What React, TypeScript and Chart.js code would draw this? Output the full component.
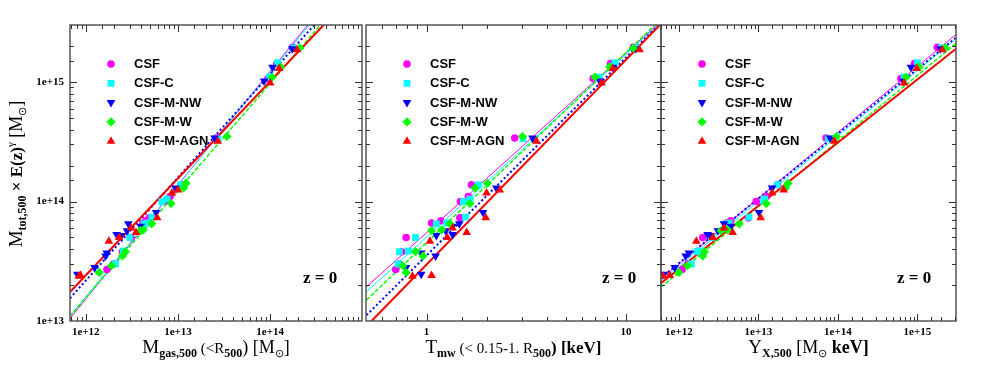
import React, { useEffect, useRef } from "react";
import { Chart, registerables } from "chart.js";
import { drawPoint } from "chart.js/helpers";

Chart.register(...registerables);

// ---------------- data ----------------
const SERIES_NAMES = ["CSF", "CSF-C", "CSF-M-NW", "CSF-M-W", "CSF-M-AGN"];

// total mass M_tot,500 x E(z)^gamma per cluster
const massCSF = [1.95e15, 1.43e15, 1.07e15, 3.4e14, 1.38e14, 1.1e14, 1.0e14, 7.3e13, 6.9e13, 6.6e13, 5.0e13, 3.8e13, 3.0e13, 2.7e13];
const gasCSF = [1.75e14, 1.18e14, 9.5e13, 2.6e13, 1.1e13, 8.2e12, 7.2e12, 4.9e12, 4.5e12, 4.2e12, 3.1e12, 2.5e12, 2.0e12, 1.7e12];
const tmwCSF = [10.9, 8.37, 6.85, 2.77, 1.68, 1.62, 1.48, 1.47, 1.18, 1.06, 0.79, 0.75, 0.73, 0.7];
const yxCSF = [1.78e15, 9.2e14, 6.2e14, 7.1e13, 1.75e13, 1.25e13, 9.4e12, 7.5e12, 4.5e12, 4.0e12, 2.0e12, 1.8e12, 1.3e12, 1.1e12];

const massC = [1.93e15, 1.45e15, 1.1e15, 3.35e14, 1.38e14, 1.05e14, 1.0e14, 7.4e13, 6.6e13, 6.5e13, 5.0e13, 3.85e13, 3.8e13, 3.0e13];
const gasC = [1.8e14, 1.2e14, 9.8e13, 2.7e13, 1.06e13, 7.6e12, 6.7e12, 5.2e12, 4.6e12, 4.3e12, 3.0e12, 2.6e12, 2.55e12, 2.1e12];
const tmwC = [11.3, 8.8, 7.35, 3.05, 1.82, 1.65, 1.53, 1.57, 1.26, 1.12, 0.88, 0.81, 0.73, 0.72];
const yxC = [2.0e15, 1.0e15, 6.8e14, 7.6e13, 1.73e13, 1.2e13, 1.17e13, 7.6e12, 4.3e12, 3.9e12, 2.6e12, 1.8e12, 1.7e12, 1.44e12];

const massNW = [1.9e15, 1.33e15, 1.02e15, 3.4e14, 1.3e14, 8.1e13, 6.5e13, 6.2e13, 5.7e13, 5.3e13, 5.2e13, 3.7e13, 3.5e13, 2.8e13, 2.46e13];
const gasNW = [1.74e14, 1.06e14, 8.6e13, 2.5e13, 9.4e12, 5.8e12, 2.9e12, 3.95e12, 2.8e12, 2.16e12, 2.4e12, 1.69e12, 1.64e12, 1.25e12, 8.1e11];
const tmwNW = [11.2, 8.6, 7.4, 3.4, 2.24, 1.92, 1.46, 1.35, 1.25, 1.35, 1.12, 0.94, 1.11, 0.79, 0.94];
const yxNW = [1.95e15, 8.3e14, 6.7e14, 8.0e13, 1.49e13, 1.02e13, 3.7e12, 4.5e12, 3.1e12, 2.3e12, 2.5e12, 1.34e12, 1.22e12, 8.9e11, 6.5e11];

const massW = [1.93e15, 1.34e15, 1.1e15, 3.5e14, 1.42e14, 1.3e14, 9.6e13, 6.5e13, 5.8e13, 5.7e13, 3.8e13, 3.5e13, 2.9e13, 2.55e13];
const gasW = [2.1e14, 1.3e14, 1.05e14, 3.4e13, 1.22e13, 1.15e13, 8.4e12, 5.2e12, 4.2e12, 3.9e12, 2.7e12, 2.5e12, 1.9e12, 1.4e12];
const tmwW = [10.9, 8.3, 7.0, 3.03, 2.02, 1.75, 1.65, 1.31, 1.19, 1.06, 0.88, 0.96, 0.76, 0.79];
const yxW = [2.25e15, 1.05e15, 7.2e14, 9.6e13, 2.36e13, 2.2e13, 1.26e13, 5.75e12, 4.1e12, 3.4e12, 2.1e12, 2.0e12, 1.28e12, 1.0e12];

const massAGN = [1.86e15, 1.3e15, 9.8e14, 3.2e14, 1.25e14, 1.18e14, 7.3e13, 6.0e13, 5.5e13, 5.0e13, 4.66e13, 2.4e13, 2.37e13];
const gasAGN = [1.95e14, 1.25e14, 1.0e14, 2.7e13, 1.0e13, 8.6e12, 5.95e12, 3.1e12, 3.5e12, 2.3e12, 1.78e12, 8.8e11, 8.4e11];
const tmwAGN = [11.7, 8.6, 7.55, 3.56, 2.33, 2.0, 1.98, 1.35, 1.59, 1.27, 1.04, 1.06, 0.85];
const yxAGN = [2.05e15, 9.8e14, 6.8e14, 9.0e13, 2.08e13, 1.49e13, 1.07e13, 3.7e12, 4.75e12, 2.67e12, 1.66e12, 7.7e11, 6.4e11];

// best-fit lines: [x0, y0, x1, y1] per series (CSF, CSF-C, NW, W, AGN)
const fitGas = [
  [6.75e11, 1.05e13, 2.55e14, 3e15],
  [6.75e11, 1.1e13, 2.65e14, 3e15],
  [6.75e11, 1.55e13, 3.0e14, 3e15],
  [6.75e11, 1.1e13, 3.5e14, 3e15],
  [6.75e11, 1.75e13, 3.8e14, 3e15],
];
const fitTmw = [
  [0.5, 1.93e13, 14.3, 3e15],
  [0.5, 1.75e13, 14.5, 3e15],
  [0.5, 1.12e13, 14.6, 3e15],
  [0.5, 1.5e13, 14.0, 3e15],
  [0.53, 1.0e13, 14.8, 3e15],
];
const fitYx = [
  [5.97e11, 2.24e13, 3.06e15, 2.5e15],
  [5.97e11, 2.15e13, 3.06e15, 2.3e15],
  [5.97e11, 2.3e13, 3.06e15, 2.35e15],
  [5.97e11, 1.92e13, 3.06e15, 2.1e15],
  [5.97e11, 2.07e13, 3.06e15, 1.9e15],
];

const Y_MIN = 1e13;
const Y_MAX = 3e15;
const X_RANGE_GAS = [6.75e11, 9.9e14];
const X_RANGE_TMW = [0.497, 15];
const X_RANGE_YX = [5.97e11, 3.06e15];

const MASSES = [massCSF, massC, massNW, massW, massAGN];
const GAS = [gasCSF, gasC, gasNW, gasW, gasAGN];
const TMW = [tmwCSF, tmwC, tmwNW, tmwW, tmwAGN];
const YX = [yxCSF, yxC, yxNW, yxW, yxAGN];

// ---------------- style ----------------
const COLORS = ["#ff00ff", "#00ffff", "#0000ff", "#00ff00", "#ff0000"];
const POINT_STYLES = ["circle", "rect", "triangle", "rectRot", "triangle"];
const POINT_ROT = [0, 0, 180, 0, 0];
const POINT_RADIUS = [3.8, 4.8, 5, 4.6, 5];
const LINE_DASH = [[], [], [2, 2.5], [4, 2], []];
const LINE_WIDTH = [1, 1, 2, 1.5, 2];
const SERIF = '"Liberation Serif", "Times New Roman", serif';
const SANS = '"Liberation Sans", Arial, sans-serif';

type Seg = { t: string; s: number; b?: boolean; dy?: number };

const isPow10 = (v: number) => {
  const l = Math.log10(v);
  return Math.abs(l - Math.round(l)) < 1e-9;
};

function richText(ctx: CanvasRenderingContext2D, segs: Seg[], cx: number, by: number, rot: number) {
  ctx.save();
  ctx.translate(cx, by);
  if (rot) ctx.rotate(rot);
  const fontOf = (s: Seg) => `${s.b ? "bold " : ""}${s.s}px ${SERIF}`;
  let total = 0;
  segs.forEach((s) => {
    ctx.font = fontOf(s);
    total += ctx.measureText(s.t).width;
  });
  let x = -total / 2;
  ctx.textAlign = "left";
  ctx.textBaseline = "alphabetic";
  ctx.fillStyle = "#000";
  segs.forEach((s) => {
    ctx.font = fontOf(s);
    ctx.fillText(s.t, x, s.dy || 0);
    x += ctx.measureText(s.t).width;
  });
  ctx.restore();
}

const TITLE_GAS: Seg[] = [
  { t: "M", s: 19 },
  { t: "gas,500", s: 12, b: true, dy: 4 },
  { t: " (<R", s: 15 },
  { t: "500", s: 12, b: true, dy: 4 },
  { t: ") [M", s: 18 },
  { t: "⊙", s: 11, dy: 4 },
  { t: "]", s: 18 },
];
const TITLE_TMW: Seg[] = [
  { t: "T", s: 19 },
  { t: "mw", s: 12, b: true, dy: 4 },
  { t: " (< 0.15-1. R", s: 15 },
  { t: "500", s: 12, b: true, dy: 4 },
  { t: ") [keV]", s: 17, b: true },
];
const TITLE_YX: Seg[] = [
  { t: "Y", s: 19 },
  { t: "X,500", s: 12, b: true, dy: 4 },
  { t: " [M", s: 18 },
  { t: "⊙", s: 11, dy: 4 },
  { t: " keV]", s: 18, b: true },
];
const TITLE_Y: Seg[] = [
  { t: "M", s: 19 },
  { t: "tot,500", s: 12, b: true, dy: 4 },
  { t: " × E(z)", s: 17, b: true },
  { t: "γ", s: 11, dy: -8 },
  { t: " [M", s: 18 },
  { t: "⊙", s: 11, dy: 4 },
  { t: "]", s: 18 },
];

type Panel = {
  left: number;
  width: number;
  padL: number;
  padR: number;
  range: number[];
  xs: number[][];
  fits: number[][];
  title: Seg[];
  fmt: (v: number) => string;
  showY: boolean;
};

const PANELS: Panel[] = [
  { left: 0, width: 367, padL: 0, padR: 1, range: X_RANGE_GAS, xs: GAS, fits: fitGas, title: TITLE_GAS, fmt: (v) => v.toExponential(0), showY: true },
  { left: 356, width: 315, padL: 10, padR: 10, range: X_RANGE_TMW, xs: TMW, fits: fitTmw, title: TITLE_TMW, fmt: (v) => String(Math.round(v)), showY: false },
  { left: 651, width: 330, padL: 10, padR: 25, range: X_RANGE_YX, xs: YX, fits: fitYx, title: TITLE_YX, fmt: (v) => v.toExponential(0), showY: false },
];

const decoPlugin = {
  id: "panelDeco",
  afterDraw(chart: any, _args: any, opts: any) {
    const { ctx, chartArea: a } = chart;
    const x = chart.scales.x;
    const y = chart.scales.y;
    ctx.save();
    // frame
    ctx.strokeStyle = "#555";
    ctx.lineWidth = 1.5;
    ctx.strokeRect(a.left, a.top, a.right - a.left, a.bottom - a.top);
    // tick marks, inward on all sides
    ctx.lineWidth = 1;
    ctx.strokeStyle = "#333";
    ctx.beginPath();
    x.ticks.forEach((t: any) => {
      if (t.value <= x.min || t.value >= x.max) return;
      const p = Math.round(x.getPixelForValue(t.value)) + 0.5;
      const len = isPow10(t.value) ? 7 : 4;
      ctx.moveTo(p, a.bottom);
      ctx.lineTo(p, a.bottom - len);
      ctx.moveTo(p, a.top);
      ctx.lineTo(p, a.top + len);
    });
    y.ticks.forEach((t: any) => {
      if (t.value <= y.min || t.value >= y.max) return;
      const p = Math.round(y.getPixelForValue(t.value)) + 0.5;
      const len = isPow10(t.value) ? 7 : 4;
      ctx.moveTo(a.left, p);
      ctx.lineTo(a.left + len, p);
      ctx.moveTo(a.right, p);
      ctx.lineTo(a.right - len, p);
    });
    ctx.stroke();

    // legend
    SERIES_NAMES.forEach((name, i) => {
      const ry = 64 + i * 19.3;
      ctx.fillStyle = COLORS[i];
      ctx.strokeStyle = COLORS[i];
      drawPoint(ctx, { pointStyle: POINT_STYLES[i] as any, rotation: POINT_ROT[i], radius: POINT_RADIUS[i], borderWidth: 0 }, a.left + 41, ry);
      ctx.fillStyle = "#000";
      ctx.font = `bold 13px ${SANS}`;
      ctx.textAlign = "left";
      ctx.textBaseline = "middle";
      ctx.fillText(name, a.left + 64, ry + 0.5);
    });

    // z = 0
    ctx.fillStyle = "#000";
    ctx.font = `bold 17px ${SERIF}`;
    ctx.textAlign = "left";
    ctx.textBaseline = "alphabetic";
    ctx.fillText("z = 0", a.right - 59, 283);
    ctx.restore();

    // axis titles
    richText(ctx, opts.title, (a.left + a.right) / 2, 353, 0);
    if (opts.showY) richText(ctx, TITLE_Y, 22, 174, -Math.PI / 2);
  },
};

function buildConfig(p: Panel): any {
  const datasets: any[] = [];
  SERIES_NAMES.forEach((name, i) => {
    datasets.push({
      label: name,
      data: MASSES[i].map((m, k) => ({ x: p.xs[i][k], y: m })),
      pointStyle: POINT_STYLES[i],
      rotation: POINT_ROT[i],
      pointRadius: POINT_RADIUS[i],
      pointBackgroundColor: COLORS[i],
      pointBorderWidth: 0,
      borderColor: COLORS[i],
      showLine: false,
      order: 4 - i,
    });
  });
  SERIES_NAMES.forEach((name, i) => {
    const f = p.fits[i];
    datasets.push({
      label: name + " fit",
      data: [
        { x: f[0], y: f[1] },
        { x: f[2], y: f[3] },
      ],
      showLine: true,
      pointRadius: 0,
      borderColor: COLORS[i],
      borderWidth: LINE_WIDTH[i],
      borderDash: LINE_DASH[i],
      tension: 0,
      order: 10 + (4 - i),
    });
  });
  const tickFont = { family: SERIF, size: 11, weight: "bold" };
  return {
    type: "scatter",
    data: { datasets },
    options: {
      responsive: false,
      animation: false,
      events: [],
      layout: { padding: { left: p.padL, right: p.padR, top: 25, bottom: 0 } },
      plugins: {
        legend: { display: false },
        tooltip: { enabled: false },
        panelDeco: { title: p.title, showY: p.showY },
      },
      scales: {
        x: {
          type: "logarithmic",
          position: "bottom",
          min: p.range[0],
          max: p.range[1],
          grid: { display: false, drawTicks: false },
          border: { display: false },
          ticks: {
            autoSkip: false,
            maxRotation: 0,
            minRotation: 0,
            padding: 5,
            color: "#000",
            font: tickFont,
            callback: (v: any) => (isPow10(Number(v)) ? p.fmt(Number(v)) : ""),
          },
          afterFit: (s: any) => {
            s.height = 52;
          },
        },
        y: {
          type: "logarithmic",
          position: "left",
          min: Y_MIN,
          max: Y_MAX,
          grid: { display: false, drawTicks: false },
          border: { display: false },
          ticks: {
            display: p.showY,
            autoSkip: false,
            padding: 6,
            color: "#000",
            font: tickFont,
            callback: (v: any) => (isPow10(Number(v)) ? Number(v).toExponential(0) : ""),
          },
          afterFit: (s: any) => {
            s.width = p.showY ? 70 : 0;
          },
        },
      },
    },
    plugins: [decoPlugin],
  };
}

export default function App() {
  const refs = useRef<(HTMLCanvasElement | null)[]>([]);
  useEffect(() => {
    const charts = PANELS.map((p, i) => new Chart(refs.current[i] as HTMLCanvasElement, buildConfig(p)));
    return () => charts.forEach((c) => c.destroy());
  }, []);
  return (
    <div style={{ position: "fixed", left: 0, top: 0, width: 981, height: 373, background: "#fff" }}>
      {PANELS.map((p, i) => (
        <canvas
          key={i}
          ref={(el) => {
            refs.current[i] = el;
          }}
          width={p.width}
          height={373}
          style={{ position: "absolute", left: p.left, top: 0, width: p.width, height: 373 }}
        />
      ))}
    </div>
  );
}
